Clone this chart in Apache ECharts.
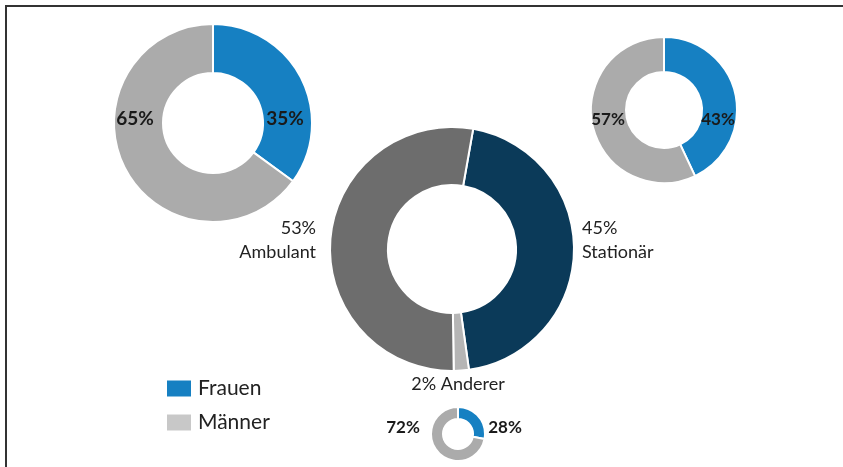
<!DOCTYPE html>
<html>
<head>
    <meta charset="utf-8">
    <script src="https://cdn.jsdelivr.net/npm/echarts@6/dist/echarts.min.js"></script>
    <style>
        body { margin: 0; background: #fff; }
        #frame { position: absolute; left: 5px; top: 5px; width: 838px; height: 462px;
                 border-left: 2px solid #333; border-top: 2px solid #333; }
        #main { position: absolute; left: 0; top: 0; width: 843px; height: 467px; }
    </style>
</head>
<body>
<div id="frame"></div>
<div id="main"></div>
<script>
    // Geschlecht je Bereich (Frauen / Männer in %)
    var genderNames = ['Frauen', 'Männer'];
    var ambulantGender = [35, 65];
    var stationaerGender = [43, 57];
    var andererGender = [28, 72];

    // Verteilung der Behandlungsart
    var careNames = ['Stationär', 'Anderer', 'Ambulant'];
    var careValues = [45, 2, 53];

    var blue = '#1680c2', grey = '#ababab';
    var careColors = ['#0b3a59', '#b5b5b5', '#6d6d6d'];

    var font = 'Lato, "Open Sans", sans-serif';

    var myChart = echarts.init(document.getElementById('main'));

    function genderData(vals) {
        return vals.map(function (v, i) {
            return { name: genderNames[i], value: v, itemStyle: { color: i === 0 ? blue : grey } };
        });
    }

    // label spots for each gender donut: [x, y] for Frauen, Männer
    function genderPie(vals, center, radius, spots, size) {
        return {
            type: 'pie',
            center: center,
            radius: radius,
            startAngle: 90,
            silent: true,
            data: genderData(vals),
            itemStyle: { borderColor: '#fff', borderWidth: 2 },
            label: {
                show: true, position: 'outside', formatter: '{c}%',
                fontFamily: font, fontWeight: 'bold', fontSize: size, color: '#1a1a1a'
            },
            labelLine: { show: false },
            labelLayout: function (p) {
                var s = spots[p.dataIndex];
                return { x: s[0], y: s[1], align: 'center', verticalAlign: 'middle' };
            }
        };
    }

    var careSpots = [[582, 240, 'left'], [458, 384, 'center'], [316, 240, 'right']];

    var option = {
        animation: false,
        legend: {
            orient: 'vertical',
            left: 160,
            top: 373,
            itemWidth: 26,
            itemHeight: 18,
            itemGap: 13,
            icon: 'rect',
            selectedMode: false,
            textStyle: { fontFamily: font, fontSize: 21, lineHeight: 18, color: '#222', padding: [0, 0, 0, 1] },
            data: [
                { name: 'Frauen', itemStyle: { color: blue } },
                { name: 'Männer', itemStyle: { color: '#c8c8c8' } }
            ]
        },
        series: [
            genderPie(ambulantGender, [213, 123], [50, 99], [[285, 119], [135, 119]], 19),
            genderPie(stationaerGender, [664, 110], [38, 73], [[718, 120], [608, 120]], 17),
            genderPie(andererGender, [458, 434], [15, 27], [[505, 428], [403, 428]], 17),
            {
                type: 'pie',
                center: [452, 249],
                radius: [64, 122],
                startAngle: 80,
                silent: true,
                data: careValues.map(function (v, i) {
                    return { name: careNames[i], value: v, itemStyle: { color: careColors[i] } };
                }),
                itemStyle: { borderColor: '#fff', borderWidth: 2 },
                label: {
                    show: true, position: 'outside',
                    formatter: function (p) {
                        return p.dataIndex === 1 ? p.value + '% ' + p.name : p.value + '%\n' + p.name;
                    },
                    fontFamily: font, fontSize: 18, lineHeight: 24, color: '#222'
                },
                labelLine: { show: false },
                labelLayout: function (p) {
                    var s = careSpots[p.dataIndex];
                    return { x: s[0], y: s[1], align: s[2], verticalAlign: 'middle' };
                }
            }
        ]
    };

    myChart.setOption(option);
</script>
</body>
</html>
